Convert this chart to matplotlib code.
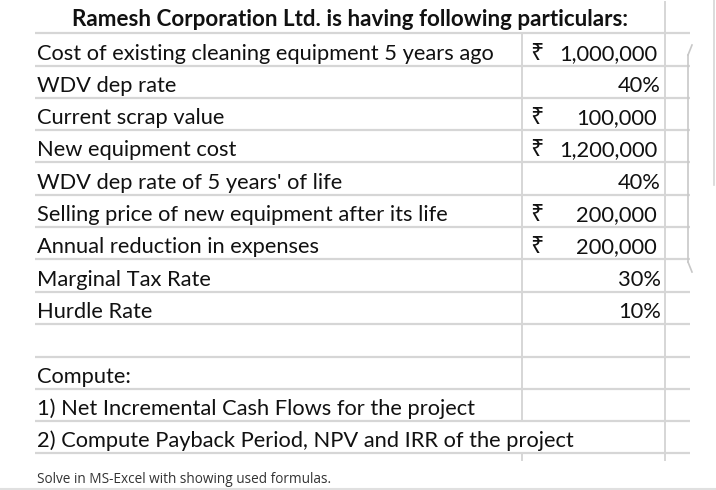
import matplotlib.pyplot as plt

title = "Ramesh Corporation Ltd. is having following particulars:"
labels = [
    "Cost of existing cleaning equipment 5 years ago",
    "WDV dep rate",
    "Current scrap value",
    "New equipment cost",
    "WDV dep rate of 5 years' of life",
    "Selling price of new equipment after its life",
    "Annual reduction in expenses",
    "Marginal Tax Rate",
    "Hurdle Rate",
]
values = [1000000, 0.40, 100000, 1200000, 0.40, 200000, 200000, 0.30, 0.10]
kinds = ["inr", "pct", "inr", "inr", "pct", "inr", "inr", "pct", "pct"]
tasks = [
    "Compute:",
    "1) Net Incremental Cash Flows for the project",
    "2) Compute Payback Period, NPV and IRR of the project",
]
note = "Solve in MS-Excel with showing used formulas."

W, H = 716, 490
fig = plt.figure(figsize=(W / 100, H / 100), dpi=100)
ax = fig.add_axes([0, 0, 1, 1])
ax.set_xlim(0, W)
ax.set_ylim(H, 0)
ax.axis("off")

fam = ["Lato", "DejaVu Sans"]
grid = "#d6d6d6"
fs = 15.75
ink = "#111111"

# row boundaries
row_lines = [33, 66, 98, 130, 162, 195, 227, 259, 292, 324, 357, 389, 421, 453]
left, right = 35, 690
col1, col2 = 522, 665

for y in row_lines:
    ax.plot([left, right], [y, y], color=grid, lw=1.6, solid_capstyle="butt")

# vertical lines (col1 hidden behind title row and the long last task row)
ax.plot([col1, col1], [33, 421], color=grid, lw=1.4)
ax.plot([col1, col1], [453, 460], color=grid, lw=1.4)
ax.plot([col2, col2], [2, 460], color=grid, lw=1.4)
ax.plot([714, 714], [0, 185], color=grid, lw=1.2)

# bracket on the right
ax.plot([688, 688], [55, 262], color="#c8c8c8", lw=1.2)
ax.plot([688, 692], [55, 45], color="#c8c8c8", lw=1.2)
ax.plot([688, 692], [262, 272], color="#c8c8c8", lw=1.2)

ax.text(350, 20, title, ha="center", va="center", fontsize=16.1, fontweight="bold",
        family=fam, color=ink)

for i, (lab, v, k) in enumerate(zip(labels, values, kinds)):
    yb = row_lines[i + 1] - 6
    ax.text(37, yb, lab, ha="left", va="baseline", fontsize=fs, family=fam, color=ink)
    if k == "inr":
        ax.text(530, yb, "\u20b9", ha="left", va="baseline", fontsize=fs + 1,
                family=["Noto Sans", "DejaVu Sans"], color=ink)
        ax.text(657, yb, f"{v:,.0f}", ha="right", va="baseline", fontsize=fs,
                family=fam, color=ink)
    else:
        ax.text(661, yb, f"{v:.0%}", ha="right", va="baseline", fontsize=fs,
                family=fam, color=ink)

for j, t in enumerate(tasks):
    yb = row_lines[11 + j] - 6
    ax.text(37, yb, t, ha="left", va="baseline", fontsize=fs, family=fam, color=ink)

ax.text(37, 479, note, ha="left", va="center", fontsize=9.8, family=["Open Sans", "DejaVu Sans"],
        color="#333333")
ax.plot([0, W], [489, 489], color="#e0e0e0", lw=1.5)

fig.savefig("out.png", dpi=100)
